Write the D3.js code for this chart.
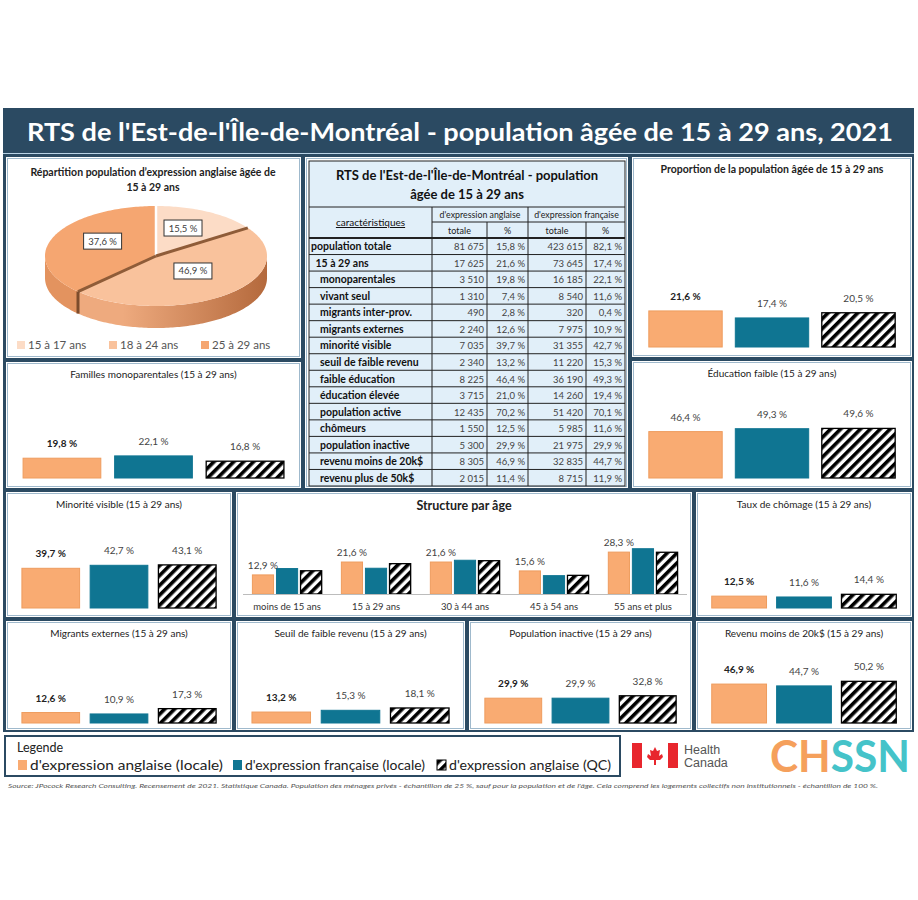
<!DOCTYPE html>
<html><head><meta charset="utf-8">
<script src="https://cdn.jsdelivr.net/npm/d3@7"></script>
<style>body{margin:0;background:#fff}svg{display:block}text{font-family:Lato,"Open Sans",sans-serif}</style>
</head><body><svg id="c" width="918" height="900"></svg>
<script>
// ---------------- DATA ----------------
const titleText = "RTS de l'Est-de-l'Île-de-Montréal - population âgée de 15 à 29 ans, 2021";
const seriesNames = ["d'expression anglaise (locale)", "d'expression française (locale)", "d'expression anglaise (QC)"];

const pieCategories = ["15 à 17 ans", "18 à 24 ans", "25 à 29 ans"];
const pieValues = [15.5, 46.9, 37.6];

const proportion = [21.6, 17.4, 20.5];
const educationFaible = [46.4, 49.3, 49.6];
const famillesMono = [19.8, 22.1, 16.8];
const minoriteVisible = [39.7, 42.7, 43.1];
const tauxChomage = [12.5, 11.6, 14.4];
const migrantsExternes = [12.6, 10.9, 17.3];
const seuilFaibleRevenu = [13.2, 15.3, 18.1];
const populationInactive = [29.9, 29.9, 32.8];
const revenuMoins20k = [46.9, 44.7, 50.2];

const ageCategories = ["moins de 15 ans", "15 à 29 ans", "30 à 44 ans", "45 à 54 ans", "55 ans et plus"];
const ageAnglaise = [12.9, 21.6, 21.6, 15.6, 28.3];
const ageFrancaise = [17.2, 17.4, 22.8, 12.4, 30.6];
const ageQC = [15.7, 20.5, 22.5, 12.6, 28.2];

const tableTitle = ["RTS de l'Est-de-l'Île-de-Montréal - population", "âgée de 15 à 29 ans"];
const tableLabels = ["population totale", "15 à 29 ans", "monoparentales", "vivant seul", "migrants inter-prov.", "migrants externes", "minorité visible", "seuil de faible revenu", "faible éducation", "éducation élevée", "population active", "chômeurs", "population inactive", "revenu moins de 20k$", "revenu plus de 50k$"];
const tableIndent = [0, 1, 2, 2, 2, 2, 2, 2, 2, 2, 2, 2, 2, 2, 2];
const angTotale = [81675, 17625, 3510, 1310, 490, 2240, 7035, 2340, 8225, 3715, 12435, 1550, 5300, 8305, 2015];
const angPct = [15.8, 21.6, 19.8, 7.4, 2.8, 12.6, 39.7, 13.2, 46.4, 21.0, 70.2, 12.5, 29.9, 46.9, 11.4];
const frTotale = [423615, 73645, 16185, 8540, 320, 7975, 31355, 11220, 36190, 14260, 51420, 5985, 21975, 32835, 8715];
const frPct = [82.1, 17.4, 22.1, 11.6, 0.4, 10.9, 42.7, 15.3, 49.3, 19.4, 70.1, 11.6, 29.9, 44.7, 11.9];

const sourceText = "Source: JPocock Research Consulting. Recensement de 2021. Statistique Canada. Population des ménages privés - échantillon de 25 %, sauf pour la population et de l'âge. Cela comprend les logements collectifs non institutionnels - échantillon de 100 %.";

// ---------------- STYLE ----------------
const NAVY = "#2b4a62", ORANGE = "#f9ab72", ORANGE_S = "#ee9c5e", TEAL = "#0f7592";
const loc = d3.formatLocale({decimal: ",", thousands: "\u00a0", grouping: [3], currency: ["", "$"]});
const fInt = loc.format(",d");
const fPct = v => loc.format(".1f")(v) + " %";

const svg = d3.select("#c");
const defs = svg.append("defs");
const pat = defs.append("pattern").attr("id", "hatch").attr("patternUnits", "userSpaceOnUse")
  .attr("width", 7).attr("height", 7).attr("patternTransform", "rotate(45)");
pat.append("rect").attr("width", 7).attr("height", 7).attr("fill", "#fff");
pat.append("rect").attr("width", 3.6).attr("height", 7).attr("fill", "#000");

function fitText(sel, w) { sel.attr("textLength", w).attr("lengthAdjust", "spacingAndGlyphs"); return sel; }

// background frame
svg.append("rect").attr("x", 3).attr("y", 108).attr("width", 911).attr("height", 624).attr("fill", NAVY);
fitText(svg.append("text").attr("x", 460).attr("y", 141).attr("text-anchor", "middle")
  .attr("fill", "#fff").attr("font-size", 25).attr("font-weight", 700).text(titleText), 866);
svg.append("line").attr("x1", 3).attr("x2", 914).attr("y1", 153.5).attr("y2", 153.5).attr("stroke", "#b9d3e6").attr("stroke-width", 1);

function panel(x0, y0, x1, y1) {
  svg.append("rect").attr("x", x0).attr("y", y0).attr("width", x1 - x0).attr("height", y1 - y0).attr("fill", "#fff");
  svg.append("rect").attr("x", x0 + 1.5).attr("y", y0 + 1.5).attr("width", x1 - x0 - 3).attr("height", y1 - y0 - 3)
    .attr("fill", "none").attr("stroke", "#9fb9cc").attr("stroke-width", 1);
}
function barFill(i) { return i === 0 ? ORANGE : i === 1 ? TEAL : "url(#hatch)"; }
function barStroke(i) { return i === 0 ? ORANGE_S : i === 1 ? TEAL : "#000"; }

function barPanel(p, title, values, base, h, boldTitle, boldFirst) {
  const [x0, y0, x1, y1] = p;
  panel(x0, y0, x1, y1);
  svg.append("text").attr("x", (x0 + x1) / 2).attr("y", y0 + 16).attr("text-anchor", "middle")
    .attr("font-size", boldTitle ? 10.5 : 10).attr("font-weight", boldTitle ? 700 : 400).attr("fill", "#222").text(title);
  const x = d3.scaleBand().domain(seriesNames).range([x0 + 12, x1 - 12]).paddingInner(0.14).paddingOuter(0.05);
  const y = d3.scaleLinear().domain([0, 100]).range([base, base - h]);
  const g = svg.append("g");
  g.selectAll("rect").data(values).join("rect")
    .attr("x", (d, i) => x(seriesNames[i]) + 0.5).attr("width", x.bandwidth() - 1)
    .attr("y", d => y(d)).attr("height", d => y(0) - y(d))
    .attr("fill", (d, i) => barFill(i)).attr("stroke", (d, i) => barStroke(i)).attr("stroke-width", (d, i) => i === 2 ? 1.3 : 1);
  g.selectAll("text").data(values).join("text")
    .attr("x", (d, i) => x(seriesNames[i]) + x.bandwidth() / 2).attr("y", d => y(d) - 11)
    .attr("text-anchor", "middle").attr("font-size", 10)
    .attr("font-weight", (d, i) => i === 0 && boldFirst ? 700 : 400).attr("fill", (d, i) => i === 0 && boldFirst ? "#222" : "#444")
    .text(d => fPct(d));
}

// ---------------- PIE ----------------
panel(6, 157, 301, 358);
svg.append("text").attr("x", 153).attr("y", 176).attr("text-anchor", "middle").attr("font-size", 10.5).attr("font-weight", 700).attr("fill", "#222")
  .text("Répartition population d’expression anglaise âgée de");
svg.append("text").attr("x", 153).attr("y", 191).attr("text-anchor", "middle").attr("font-size", 10.5).attr("font-weight", 700).attr("fill", "#222")
  .text("15 à 29 ans");
const pieColors = ["#fcdcc6", "#f9c29c", "#f5a671"];
const sideColors = [["#f3cdb2", "#d9a888"], ["#eeaa7e", "#b4693c"], ["#e3935f", "#c77a46"]];
const cx = 156, cy = 256, rx = 111, ry = 50, depth = 22;
const P = (a, r = 1, dy = 0) => [cx + rx * r * Math.sin(a), cy - ry * r * Math.cos(a) + dy];
const arcs = d3.pie().sort(null).value(d => d)(pieValues);
const lineGen = d3.line();
sideColors.forEach((c, i) => {
  const gr = defs.append("linearGradient").attr("id", "side" + i).attr("gradientUnits", "userSpaceOnUse")
    .attr("x1", cx - rx).attr("x2", cx + rx).attr("y1", 0).attr("y2", 0);
  gr.append("stop").attr("offset", 0).attr("stop-color", c[0]);
  gr.append("stop").attr("offset", 0.35).attr("stop-color", c[0]);
  gr.append("stop").attr("offset", 1).attr("stop-color", c[1]);
});
const pieG = svg.append("g");
arcs.forEach((a, i) => {
  const s = Math.max(a.startAngle, Math.PI / 2), e = Math.min(a.endAngle, 3 * Math.PI / 2);
  if (s < e) {
    const angs = d3.range(s, e, 0.02).concat([e]);
    const pts = angs.map(t => P(t)).concat(angs.slice().reverse().map(t => P(t, 1, depth)));
    pieG.append("path").attr("d", lineGen(pts) + "Z").attr("fill", `url(#side${i})`);
  }
});
arcs.forEach((a, i) => {
  const angs = d3.range(a.startAngle, a.endAngle, 0.02).concat([a.endAngle]);
  const pts = [[cx, cy]].concat(angs.map(t => P(t)));
  pieG.append("path").attr("d", lineGen(pts) + "Z").attr("fill", pieColors[i]);
});
arcs.forEach((a, i) => {
  const t = a.startAngle;
  const dark = i !== 0;
  pieG.append("path").attr("d", lineGen([[cx, cy], P(t)])).attr("stroke", dark ? "#8f5c38" : "#fff").attr("stroke-width", dark ? 3 : 2.5);
  if (dark && t > Math.PI / 2 && t < 3 * Math.PI / 2)
    pieG.append("path").attr("d", lineGen([P(t), P(t, 1, depth)])).attr("stroke", "#7d4c2c").attr("stroke-width", 3);
});
arcs.forEach((a, i) => {
  const m = (a.startAngle + a.endAngle) / 2;
  const [lx, ly0] = P(m, 0.52);
  const ly = ly0 - 5;
  pieG.append("rect").attr("x", lx - 19).attr("y", ly - 8).attr("width", 38).attr("height", 16).attr("fill", "#fff").attr("stroke", "#333").attr("stroke-width", 1);
  pieG.append("text").attr("x", lx).attr("y", ly + 3.5).attr("text-anchor", "middle").attr("font-size", 9.5).attr("fill", "#404040").text(fPct(a.data));
});
const pieLegX = d3.scalePoint().domain(pieCategories).range([17, 201]);
pieCategories.forEach((c, i) => {
  svg.append("rect").attr("x", pieLegX(c)).attr("y", 341).attr("width", 8).attr("height", 8).attr("fill", pieColors[i]);
  svg.append("text").attr("x", pieLegX(c) + 11).attr("y", 349).attr("font-size", 11.5).attr("fill", "#555").text(c);
});

// ---------------- TABLE ----------------
panel(305, 157, 628, 488);
const tx0 = 309, tx1 = 625, ty0 = 161;
const colEdges = [309, 432, 487, 528, 586, 625];
const hdr1 = 207, hdr2 = 222, hdr3 = 238, rowH = (486 - 238) / tableLabels.length;
svg.append("rect").attr("x", tx0).attr("y", ty0).attr("width", tx1 - tx0).attr("height", 486 - ty0).attr("fill", "#e1eff9").attr("stroke", "#222").attr("stroke-width", 1);
tableTitle.forEach((t, i) => svg.append("text").attr("x", (tx0 + tx1) / 2).attr("y", 180 + i * 19).attr("text-anchor", "middle")
  .attr("font-size", 13).attr("font-weight", 700).attr("fill", "#111").text(t));
const tg = svg.append("g").attr("stroke", "#222").attr("stroke-width", 1);
tg.append("line").attr("x1", tx0).attr("x2", tx1).attr("y1", hdr1).attr("y2", hdr1);
tg.append("line").attr("x1", colEdges[1]).attr("x2", tx1).attr("y1", hdr2).attr("y2", hdr2);
tg.append("line").attr("x1", tx0).attr("x2", tx1).attr("y1", hdr3).attr("y2", hdr3).attr("stroke-width", 2);
d3.range(1, tableLabels.length).forEach(i => tg.append("line").attr("x1", tx0).attr("x2", tx1).attr("y1", hdr3 + i * rowH).attr("y2", hdr3 + i * rowH));
[1, 3].forEach(k => tg.append("line").attr("x1", colEdges[k]).attr("x2", colEdges[k]).attr("y1", hdr1).attr("y2", 486));
[2, 4].forEach(k => tg.append("line").attr("x1", colEdges[k]).attr("x2", colEdges[k]).attr("y1", hdr2).attr("y2", 486));
svg.append("text").attr("x", (colEdges[0] + colEdges[1]) / 2).attr("y", 226).attr("text-anchor", "middle").attr("font-size", 10).attr("fill", "#111")
  .attr("text-decoration", "underline").text("caractéristiques");
svg.append("text").attr("x", (colEdges[1] + colEdges[3]) / 2).attr("y", 218).attr("text-anchor", "middle").attr("font-size", 8.8).attr("fill", "#222").text("d'expression anglaise");
svg.append("text").attr("x", (colEdges[3] + colEdges[5]) / 2).attr("y", 218).attr("text-anchor", "middle").attr("font-size", 8.8).attr("fill", "#222").text("d'expression française");
["totale", "%", "totale", "%"].forEach((t, k) => svg.append("text").attr("x", (colEdges[k + 1] + colEdges[k + 2]) / 2).attr("y", 234)
  .attr("text-anchor", "middle").attr("font-size", 9).attr("fill", "#222").text(t));
tableLabels.forEach((lab, i) => {
  const yb = hdr3 + i * rowH + rowH / 2 + 4;
  svg.append("text").attr("x", tx0 + 2 + tableIndent[i] * 4.5).attr("y", yb).attr("font-size", 10.5).attr("font-weight", 700).attr("fill", "#111").text(lab);
  const vals = [fInt(angTotale[i]), fPct(angPct[i]), fInt(frTotale[i]), fPct(frPct[i])];
  vals.forEach((v, k) => svg.append("text").attr("x", colEdges[k + 2] - 3).attr("y", yb).attr("text-anchor", "end")
    .attr("font-size", 9.5).attr("fill", "#444").text(v));
});

// ---------------- BAR PANELS ----------------
barPanel([632, 157, 912, 357], "Proportion de la population âgée de 15 à 29 ans", proportion, 347, 167, true, true);
barPanel([632, 361, 912, 488], "Éducation faible  (15 à 29 ans)", educationFaible, 478, 100, false, false);
barPanel([6, 362, 301, 488], "Familles monoparentales  (15 à 29 ans)", famillesMono, 478, 100, false, true);
barPanel([6, 492, 232, 617], "Minorité visible (15 à 29 ans)", minoriteVisible, 608, 100, false, true);
barPanel([696, 492, 912, 617], "Taux de chômage (15 à 29 ans)", tauxChomage, 608, 95, false, true);
barPanel([6, 621, 232, 730], "Migrants externes (15 à 29 ans)", migrantsExternes, 723, 83, false, true);
barPanel([236, 621, 465, 730], "Seuil de faible revenu (15 à 29 ans)", seuilFaibleRevenu, 723, 83, false, true);
barPanel([469, 621, 692, 730], "Population inactive (15 à 29 ans)", populationInactive, 723, 83, false, true);
barPanel([696, 621, 912, 730], "Revenu moins de 20k$ (15 à 29 ans)", revenuMoins20k, 723, 83, false, true);

// ---------------- STRUCTURE PAR ÂGE ----------------
panel(236, 492, 692, 617);
svg.append("text").attr("x", 464).attr("y", 510).attr("text-anchor", "middle").attr("font-size", 12.5).attr("font-weight", 700).attr("fill", "#222").text("Structure par âge");
const ageSeries = [ageAnglaise, ageFrancaise, ageQC];
const x0s = d3.scaleBand().domain(ageCategories).range([243, 687]).paddingInner(0.21).paddingOuter(0.1);
const x1s = d3.scaleBand().domain(seriesNames).range([0, x0s.bandwidth()]).paddingInner(0.08);
const ys = d3.scaleLinear().domain([0, 100]).range([594, 446]);
const sg = svg.append("g");
ageCategories.forEach((c, ci) => {
  ageSeries.forEach((s, si) => {
    sg.append("rect").attr("x", x0s(c) + x1s(seriesNames[si]) + 0.5).attr("width", x1s.bandwidth() - 1)
      .attr("y", ys(s[ci])).attr("height", ys(0) - ys(s[ci]))
      .attr("fill", barFill(si)).attr("stroke", barStroke(si)).attr("stroke-width", si === 2 ? 1.3 : 1);
  });
  sg.append("text").attr("x", x0s(c) + x1s(seriesNames[0]) + x1s.bandwidth() / 2).attr("y", ys(ageAnglaise[ci]) - 6)
    .attr("text-anchor", "middle").attr("font-size", 10).attr("fill", "#444").text(fPct(ageAnglaise[ci]));
});
const axG = svg.append("g").attr("transform", "translate(0,594)")
  .call(d3.axisBottom(x0s).tickSize(0).tickPadding(9).tickSizeOuter(0));
axG.select(".domain").attr("stroke", "#bcbcbc").attr("d", "M243,0.5H687");
axG.selectAll("text").attr("font-size", 9.5).attr("fill", "#333").style("font-family", "Lato");

// ---------------- LEGEND ----------------
svg.append("rect").attr("x", 5).attr("y", 736).attr("width", 615).attr("height", 40).attr("fill", "#fff").attr("stroke", NAVY).attr("stroke-width", 2);
svg.append("text").attr("x", 17).attr("y", 752).attr("font-size", 12.5).attr("fill", "#222").text("Legende");
const legX = [18, 233, 437], legW = [193, 180, 162];
seriesNames.forEach((n, i) => {
  svg.append("rect").attr("x", legX[i]).attr("y", 760).attr("width", 9).attr("height", 10).attr("fill", barFill(i)).attr("stroke", i === 2 ? "#000" : "none");
  fitText(svg.append("text").attr("x", legX[i] + 12).attr("y", 770).attr("font-size", 14).attr("fill", "#222").text(n), legW[i]);
});

// Health Canada logo
const hc = svg.append("g");
hc.append("rect").attr("x", 632).attr("y", 743).attr("width", 10).attr("height", 25).attr("fill", "#e8262d");
hc.append("rect").attr("x", 668).attr("y", 743).attr("width", 10).attr("height", 25).attr("fill", "#e8262d");
hc.append("path").attr("fill", "#e8262d")
  .attr("d", "M655,747 L657,751 L660,750 L659,756 L662,754 L663,757 L660,760 L656,760 L656,765 L654,765 L654,760 L650,760 L647,757 L648,754 L651,756 L650,750 L653,751 Z");
hc.append("text").attr("x", 684).attr("y", 754).attr("font-size", 12.5).attr("fill", "#555").style("font-family", "Liberation Sans").text("Health");
hc.append("text").attr("x", 684).attr("y", 767).attr("font-size", 12.5).attr("fill", "#555").style("font-family", "Liberation Sans").text("Canada");
const ch = svg.append("text").attr("x", 770).attr("y", 772).attr("font-size", 44).attr("font-weight", 700);
ch.append("tspan").attr("fill", "#f5a05c").text("CH");
ch.append("tspan").attr("fill", "#45c3c9").text("SSN");
fitText(ch, 140);

// source
fitText(svg.append("text").attr("x", 8).attr("y", 788).attr("font-size", 6.5).attr("font-style", "italic").attr("fill", "#555").text(sourceText), 870);
</script></body></html>
